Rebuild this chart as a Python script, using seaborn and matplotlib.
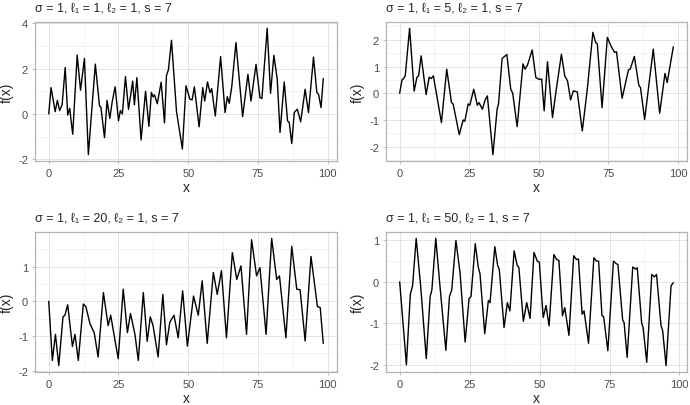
import matplotlib.pyplot as plt
import pandas as pd
import seaborn as sns
from matplotlib.ticker import MultipleLocator

sns.set_theme(style="white")
plt.rcParams['font.family'] = ['Liberation Sans', 'DejaVu Sans']
plt.rcParams['axes.unicode_minus'] = False

# values (local peaks, troughs and shoulders)
p1_x = [0, 0.84, 2.3, 3.1, 3.9, 4.8, 5.9, 6.8, 7.5, 8.6, 10.2, 11.4, 12.8, 14.2, 16.7, 18.2, 18.7, 20.0, 20.9,
        21.9, 22.7, 23.8, 25.0, 25.7, 26.4, 27.5, 28.6, 30.1, 30.7, 31.6, 33.1, 34.7, 35.9, 36.8, 37.4, 37.9, 38.9,
        40.3, 41.5, 42.2, 42.9, 44.0, 45.8, 47.9, 49.2, 50.6, 51.4, 52.2, 53.9, 55.2, 55.9, 56.9, 57.8, 58.4, 59.7,
        61.6, 63.2, 64.0, 64.7, 65.6, 67.1, 69.5, 71.4, 72.5, 74.3, 75.7, 76.4, 78.3, 79.5, 80.7, 81.9, 82.9, 84.4,
        85.6, 86.2, 87.1, 88.0, 89.1, 90.3, 91.9, 93.1, 94.9, 96.1, 96.7, 97.6, 98.4]
p1_y = [0, 1.16, 0.1, 0.6, 0.15, 0.4, 2.05, -0.05, 0.25, -0.9, 2.6, 1.05, 2.45, -1.8, 2.2, 0.35, 0.3, -1.05, 0.6,
        -0.2, 0.5, 1.2, -0.3, 0.15, 0.0, 1.65, 0.2, 1.45, 0.4, 1.6, -1.15, 1.0, -0.55, 0.95, 0.75, 0.85, 0.45,
        1.4, -0.4, 1.7, 1.95, 3.25, 0.1, -1.55, 1.24, 0.65, 0.62, 1.2, -0.57, 1.16, 0.57, 1.41, 0.94, 1.12, -0.09,
        2.53, 0.06, 0.76, 0.47, 1.2, 3.15, -0.12, 1.75, 0.57, 2.19, 0.72, 0.68, 3.78, 0.91, 2.59, 1.53, -0.82, 1.41,
        -0.31, -0.38, -1.31, 0.06, 0.21, -0.35, 1.09, 0.06, 2.51, 0.94, 0.87, 0.28, 1.56]

p2_x = [0, 0.83, 1.4, 2.0, 3.56, 5.2, 6.2, 6.8, 7.7, 9.5, 10.6, 11.3, 12.1, 15.0, 16.9, 18.6, 19.2, 21.4, 22.8,
        23.4, 24.6, 25.2, 26.6, 27.9, 28.5, 29.7, 30.7, 31.5, 33.5, 35.0, 35.5, 36.8, 38.5, 39.9, 40.6, 42.2, 44.3,
        45.0, 45.9, 47.6, 48.9, 50.1, 51.0, 51.9, 53.1, 54.9, 56.1, 58.1, 59.3, 60.3, 61.4, 62.4, 63.8, 65.6, 67.4,
        69.4, 70.4, 71.0, 72.7, 74.6, 76.0, 77.2, 77.9, 79.9, 82.2, 82.8, 84.3, 85.9, 86.5, 88.0, 91.1, 93.4, 95.3,
        96.1, 98.3]
p2_y = [0, 0.5, 0.55, 0.65, 2.43, 0.08, 0.6, 0.65, 1.4, -0.05, 0.6, 0.55, 0.65, -1.1, 0.9, -0.35, -0.4, -1.55, -1.0,
        -1.05, -0.4, -0.45, 0.15, -0.45, -0.35, -0.6, -0.25, -0.1, -2.3, -0.6, -0.4, 1.3, 1.45, 0.15, 0.0, -1.25, 1.1,
        0.9, 1.05, 1.62, 0.59, 0.52, 0.53, -0.66, 1.18, -0.91, 0.03, 1.46, 0.65, 0.46, -0.25, 0.09, 0.05, -1.41, 0.15,
        2.28, 1.9, 1.85, -0.54, 2.09, 1.75, 1.53, 1.55, -0.19, 0.88, 0.9, 1.38, 0.3, 0.21, -0.98, 1.65, -0.75, 0.74,
        0.4, 1.74]

p3_x = [0, 1.3, 2.4, 3.6, 5.1, 5.8, 6.8, 8.5, 9.4, 10.6, 12.4, 13.3, 14.8, 16.3, 17.7, 19.6, 21.3, 22.2, 24.9,
        26.7, 28.2, 29.3, 30.9, 32.1, 33.9, 35.3, 36.4, 37.4, 39.2, 40.9, 42.2, 43.4, 44.9, 46.4, 48.0, 49.7, 51.9,
        53.6, 55.0, 56.8, 59.0, 60.4, 61.9, 63.7, 65.8, 67.4, 68.9, 70.9, 72.7, 74.5, 75.7, 77.9, 79.9, 81.7, 82.7,
        85.0, 87.1, 88.9, 90.1, 91.9, 94.0, 96.3, 97.3, 98.4]
p3_y = [0, -1.7, -0.95, -1.85, -0.45, -0.4, -0.1, -1.3, -0.95, -1.7, -0.08, -0.15, -0.65, -0.9, -1.6, 0.25, -0.7,
        -0.4, -1.65, 0.35, -0.9, -0.35, -0.95, -1.7, 0.25, -1.15, -0.45, -0.7, -1.6, 0.2, -1.25, -0.6, -0.4, -1.05,
        0.3, -1.29, 0.15, -0.4, 0.59, -1.21, 0.83, 0.2, 0.88, -1.05, 1.4, 0.63, 1.02, -0.95, 1.77, 0.73, 0.97, -0.95,
        1.81, 0.63, 0.73, -1.05, 1.58, 0.35, 0.33, -1.14, 1.29, -0.15, -0.18, -1.21]

p4_x = [0, 2.4, 3.8, 4.6, 5.9, 7.5, 9.5, 10.9, 11.5, 12.9, 14.4, 16.5, 17.8, 18.6, 20.1, 21.6, 23.4, 24.8, 25.5,
        27.0, 28.1, 28.7, 30.4, 31.7, 32.3, 34.0, 35.0, 35.6, 37.3, 38.5, 39.4, 40.9, 42.0, 42.6, 44.2, 45.4, 46.6,
        48.0, 49.2, 49.9, 51.3, 52.3, 53.4, 55.1, 56.1, 56.9, 58.2, 59.0, 60.5, 62.2, 63.2, 63.9, 65.2, 65.9, 67.5,
        69.4, 70.4, 71.1, 72.3, 72.9, 74.4, 76.4, 77.4, 78.0, 79.7, 80.2, 81.3, 83.3, 84.3, 84.9, 86.5, 87.0, 88.3,
        90.1, 91.0, 91.8, 93.4, 94.0, 95.2, 97.0, 97.8]
p4_y = [0, -2.0, -0.3, -0.1, 1.05, -0.1, -1.85, -0.35, -0.2, 1.05, -0.1, -1.65, -0.35, -0.2, 1.0, 0.2, -1.45, -0.4,
        -0.35, 0.92, 0.35, 0.2, -1.25, -0.45, -0.5, 0.85, 0.4, 0.3, -1.1, -0.5, -0.7, 0.75, 0.4, 0.35, -0.95, -0.5,
        -0.88, 0.71, 0.5, 0.48, -0.86, -0.57, -1.06, 0.66, 0.54, 0.52, -0.82, -0.62, -1.29, 0.63, 0.54, 0.55, -0.78,
        -0.7, -1.48, 0.58, 0.5, 0.5, -0.81, -0.84, -1.66, 0.5, 0.44, 0.42, -0.92, -0.98, -1.82, 0.36, 0.31, 0.34,
        -1.0, -1.1, -1.94, 0.18, 0.12, 0.18, -1.05, -1.18, -2.02, -0.09, -0.02]

titles = ["σ = 1, ℓ₁ = 1, ℓ₂ = 1, s = 7", "σ = 1, ℓ₁ = 5, ℓ₂ = 1, s = 7",
          "σ = 1, ℓ₁ = 20, ℓ₂ = 1, s = 7", "σ = 1, ℓ₁ = 50, ℓ₂ = 1, s = 7"]
y_steps = [2, 1, 1, 1]

series = [(p1_x, p1_y), (p2_x, p2_y), (p3_x, p3_y), (p4_x, p4_y)]

W, H = 690, 406
# panel boxes in pixels: left, top, right, bottom
boxes = [(35, 23, 337, 162), (386, 23, 687, 162), (35, 233, 337, 373), (386, 233, 687, 373)]

fig = plt.figure(figsize=(W / 100, H / 100), dpi=100)

for (xs, ys), title, step, (l, t, r, b) in zip(series, titles, y_steps, boxes):
    ax = fig.add_axes([l / W, 1 - b / H, (r - l) / W, (b - t) / H])
    df = pd.DataFrame({'x': xs, 'f': ys})
    sns.lineplot(data=df, x='x', y='f', ax=ax, color='black', linewidth=1.0,
                 estimator=None, sort=False)

    xpad = 0.05 * (max(xs) - min(xs))
    ypad = 0.05 * (max(ys) - min(ys))
    ax.set_xlim(min(xs) - xpad, max(xs) + xpad)
    ax.set_ylim(min(ys) - ypad, max(ys) + ypad)

    ax.xaxis.set_major_locator(MultipleLocator(25))
    ax.xaxis.set_minor_locator(MultipleLocator(12.5))
    ax.yaxis.set_major_locator(MultipleLocator(step))
    ax.yaxis.set_minor_locator(MultipleLocator(step / 2))

    ax.grid(which='major', color='#DEDEDE', linewidth=0.6)
    ax.grid(which='minor', color='#EBEBEB', linewidth=0.4)
    ax.set_axisbelow(True)
    for sp in ax.spines.values():
        sp.set_color('#B3B3B3')
        sp.set_linewidth(0.9)

    ax.tick_params(which='major', length=2.5, width=0.6, color='#B3B3B3',
                   labelsize=8, labelcolor='#4D4D4D', pad=2.5, bottom=True, left=True)
    ax.tick_params(which='minor', length=0)

    ax.set_xlabel('x', fontsize=10, labelpad=1.5)
    ax.set_ylabel('f(x)', fontsize=10, labelpad=3)
    ax.set_title(title, loc='left', fontsize=9, pad=8)

fig.savefig('out.png', dpi=100)
